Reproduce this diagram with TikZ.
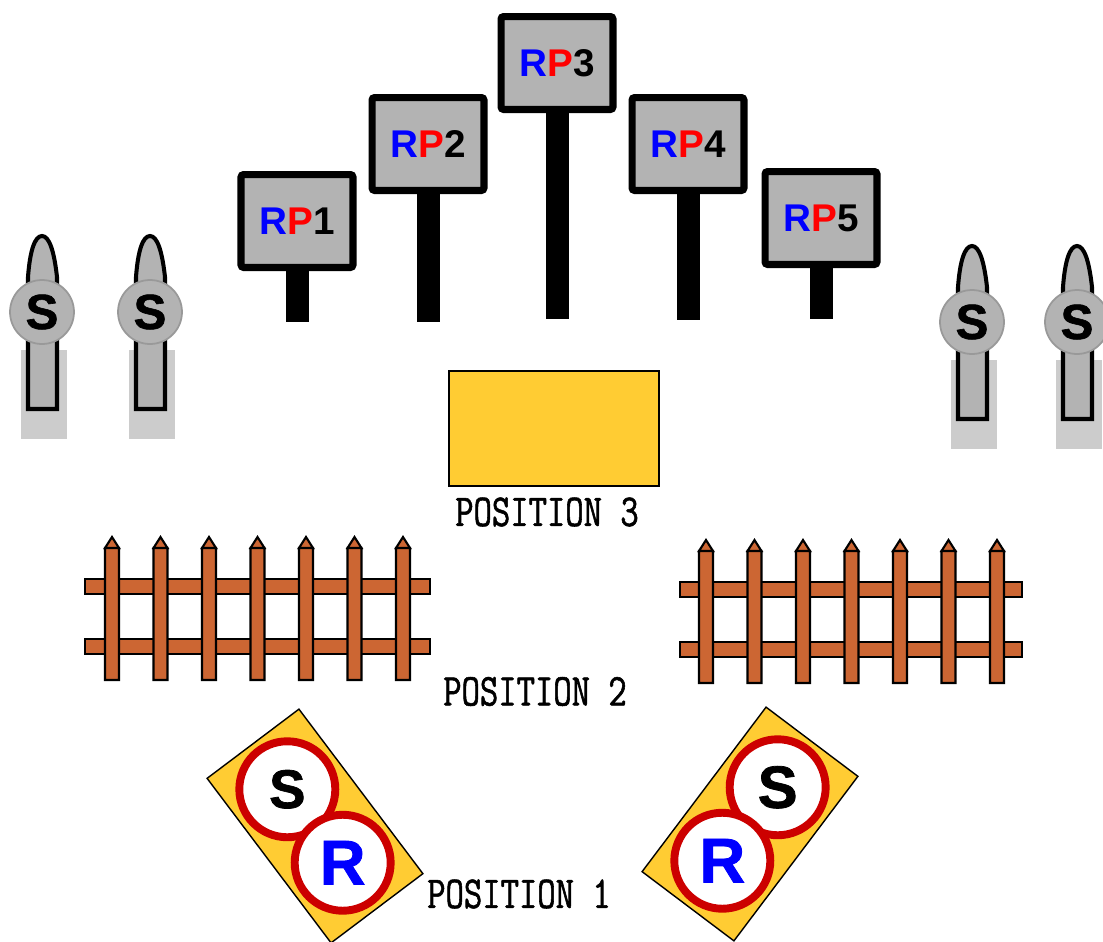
\documentclass[tikz,border=0pt]{standalone}
\usepackage{fontspec}
\setmainfont{Liberation Sans}
\newfontfamily\heavyfont[BoldFeatures={FakeBold=1.3}]{Liberation Sans}
\newfontfamily\posfont[FakeStretch=0.78, FakeBold=1.2]{Latin Modern Mono}
\definecolor{signgray}{HTML}{B3B3B3}
\definecolor{shadegray}{HTML}{CCCCCC}
\definecolor{discgray}{HTML}{999999}
\definecolor{padyellow}{HTML}{FFCC33}
\definecolor{fencebrown}{HTML}{CC6633}
\definecolor{ringred}{HTML}{CC0000}
\definecolor{rpblue}{HTML}{0000FF}
\definecolor{rpred}{HTML}{FF0000}

\begin{document}
\begin{tikzpicture}[x=0.02cm, y=-0.02cm,
  rpbox/.style={draw, line width=4pt, fill=signgray, rounded corners=1.5pt,
    minimum width=2.24cm, minimum height=1.86cm,
    font=\bfseries\fontsize{22}{22}\selectfont},
  rppost/.style={fill=black},
  shade/.style={fill=shadegray},
  stem/.style={draw, line width=2.3pt, fill=signgray},
  disc/.style={circle, draw=discgray, line width=1pt, fill=signgray,
    minimum size=1.28cm, inner sep=0pt, font=\heavyfont\bfseries\fontsize{28}{28}\selectfont},
  rail/.style={draw, line width=1.2pt, fill=fencebrown},
  plate/.style={draw, line width=0.8pt, fill=padyellow},
  ring/.style={circle, draw=ringred, line width=4.5pt, fill=white,
    minimum size=1.92cm, inner sep=0pt},
  poslabel/.style={font=\posfont\fontsize{26}{26}\selectfont}]
  \useasboundingbox (0,0) rectangle (1103,941);

  % route point signs
  \foreach \n/\x/\y/\b in {1/297/221/322, 2/428/144/322, 3/557/63/319,
                           4/688/144/320, 5/821/218/319} {
    \fill [rppost] (\x-11.5,\y) rectangle (\x+11.5,\b);
    \node [rpbox] (rp\n) at (\x,\y) {\textcolor{rpblue}{R}\textcolor{rpred}{P}\n};
  }

  % S posts
  \foreach \n/\cx/\cy in {1/42/312, 2/150/312, 3/972/322, 4/1077/322} {
    \fill [shade] (\cx-21,\cy+38) rectangle (\cx+25,\cy+127);
    \draw [stem] (\cx-14,\cy+97) -- (\cx-14,\cy-35)
      .. controls (\cx-12,\cy-62) and (\cx-7,\cy-76) .. (\cx,\cy-76)
      .. controls (\cx+7,\cy-76) and (\cx+12,\cy-62) .. (\cx+15,\cy-35)
      -- (\cx+15,\cy+97) -- cycle;
    \node [disc] (s\n) at (\cx,\cy) {S};
  }

  \node [draw, fill=padyellow, line width=0.8pt, minimum width=4.2cm,
    minimum height=2.3cm] (pad) at (554,428.5) {};
  \node [poslabel] (pos3) at (547,512) {POSITION 3};

  % fences
  \foreach \fx/\fy/\fw/\px in {85/579/345/112, 680/582/342/706} {
    \draw [rail] (\fx,\fy) rectangle ++(\fw,15);
    \draw [rail] (\fx,\fy+60) rectangle ++(\fw,15);
    \foreach \i in {0,...,6}
      \draw [rail] (\px+48.5*\i-7,\fy-31) rectangle ++(14,132)
        (\px+48.5*\i-7,\fy-31) -- ++(7,-11) -- ++(7,11) -- cycle;
  }
  \node [poslabel] (pos2) at (535,691.5) {POSITION 2};

  % S/R plates
  \foreach \p/\px/\py/\rot/\sz in {l/315/826/37/31, r/750/824/-37/34} {
    \begin{scope}[shift={(\px,\py)}, rotate=\rot]
      \draw [plate] (-57.5,-103) rectangle (57.5,103);
      \node [ring, font=\heavyfont\bfseries\fontsize{\sz}{\sz}\selectfont] (s\p) at (0,-46) {S};
      \node [ring, text=rpblue, font=\heavyfont\bfseries\fontsize{36}{36}\selectfont] (r\p) at (0,46) {R};
    \end{scope}
  }
  \node [poslabel] (pos1) at (519,894) {POSITION 1};
\end{tikzpicture}
\end{document}
